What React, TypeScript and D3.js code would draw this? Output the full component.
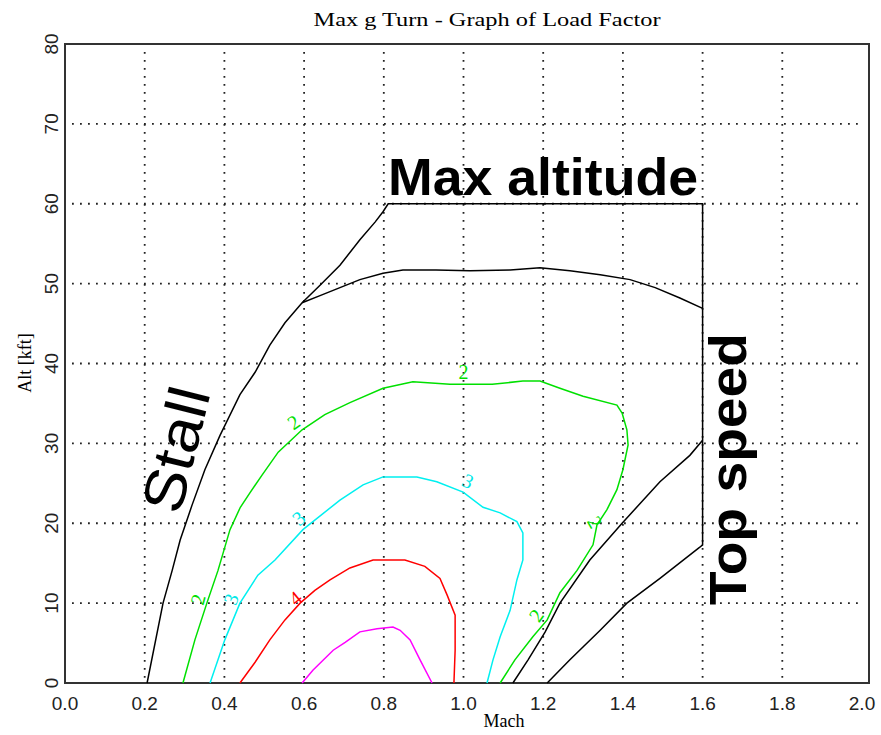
import React from "react";
import * as d3 from "d3";

const W = 881;
const H = 735;

const xTicks = [0, 0.2, 0.4, 0.6, 0.8, 1.0, 1.2, 1.4, 1.6, 1.8, 2.0];
const yTicks = [0, 10, 20, 30, 40, 50, 60, 70, 80];

// Stall boundary + max altitude + top speed envelope
const envelope: [number, number][] = [
  [0.206, 0], [0.246, 10.0], [0.269, 14.1], [0.289, 17.9], [0.319, 22.3], [0.351, 26.7],
  [0.389, 31.0], [0.439, 36.1], [0.477, 38.9], [0.514, 42.3], [0.552, 45.1], [0.595, 47.6],
  [0.64, 49.8], [0.69, 52.3], [0.74, 55.5], [0.778, 57.7], [0.798, 59.0], [0.811, 60.0],
  [1.6, 60.0], [1.6, 17.2],
];

// 1g ceiling curve
const ceiling: [number, number][] = [
  [0.595, 47.6], [0.64, 48.5], [0.69, 49.5], [0.74, 50.5], [0.798, 51.3], [0.848, 51.7],
  [0.931, 51.7], [1.016, 51.6], [1.117, 51.7], [1.192, 52.0], [1.267, 51.6], [1.343, 51.1],
  [1.418, 50.5], [1.481, 49.5], [1.543, 48.2], [1.6, 46.9],
];

const topLineA: [number, number][] = [
  [1.124, 0], [1.162, 2.9], [1.205, 6.4], [1.242, 10.0], [1.317, 15.4], [1.398, 20.0],
  [1.493, 25.2], [1.568, 28.5], [1.6, 30.4],
];

const topLineB: [number, number][] = [
  [1.21, 0], [1.267, 2.9], [1.343, 6.6], [1.41, 10.0], [1.493, 13.1], [1.593, 17.0], [1.6, 17.3],
];

const g2: [number, number][] = [
  [0.296, 0], [0.326, 5.4], [0.356, 10.0], [0.384, 14.1], [0.414, 19.2], [0.44, 22.0],
  [0.464, 23.8], [0.494, 26.0], [0.535, 28.9], [0.595, 31.7], [0.652, 33.6], [0.715, 35.1],
  [0.798, 36.9], [0.873, 37.7], [0.966, 37.4], [1.072, 37.4], [1.149, 37.8], [1.192, 37.8],
  [1.242, 36.9], [1.3, 35.9], [1.385, 34.8], [1.398, 33.8], [1.41, 31.7], [1.413, 29.8],
  [1.4, 26.7], [1.385, 24.2], [1.36, 21.7], [1.335, 19.8], [1.325, 17.3], [1.285, 14.1],
  [1.242, 11.3], [1.21, 7.9], [1.174, 5.8], [1.129, 2.9], [1.092, 0],
];

const g3: [number, number][] = [
  [0.364, 0], [0.401, 5.4], [0.439, 10.0], [0.484, 13.5], [0.527, 15.4], [0.597, 19.2],
  [0.69, 22.9], [0.748, 24.8], [0.798, 25.8], [0.883, 25.8], [0.933, 25.2], [0.999, 23.9],
  [1.049, 22.0], [1.092, 21.3], [1.134, 20.2], [1.149, 18.8], [1.149, 15.4], [1.134, 12.9],
  [1.117, 9.1], [1.092, 5.8], [1.074, 2.9], [1.059, 0],
];

const g4: [number, number][] = [
  [0.439, 0], [0.477, 2.6], [0.514, 5.4], [0.552, 7.9], [0.59, 10.0], [0.627, 11.6],
  [0.665, 12.9], [0.715, 14.4], [0.773, 15.4], [0.853, 15.4], [0.903, 14.6], [0.941, 13.1],
  [0.959, 11.0], [0.979, 8.5], [0.979, 4.1], [0.976, 0],
];

const g5: [number, number][] = [
  [0.595, 0], [0.622, 1.6], [0.673, 4.1], [0.703, 5.1], [0.74, 6.4], [0.783, 6.8],
  [0.823, 7.0], [0.841, 6.6], [0.866, 5.4], [0.891, 2.9], [0.921, 0],
];

const contourLabels: { text: string; mach: number; alt: number; rot: number; color: string }[] = [
  { text: "2", mach: 1.0, alt: 38.6, rot: 0, color: "#00e000" },
  { text: "2", mach: 0.577, alt: 32.4, rot: -35, color: "#00e000" },
  { text: "2", mach: 0.339, alt: 10.4, rot: -75, color: "#00e000" },
  { text: "2", mach: 1.325, alt: 20.0, rot: 60, color: "#00e000" },
  { text: "2", mach: 1.187, alt: 8.3, rot: -55, color: "#00e000" },
  { text: "3", mach: 0.422, alt: 10.4, rot: -70, color: "#00e8e8" },
  { text: "3", mach: 0.59, alt: 20.4, rot: -40, color: "#00e8e8" },
  { text: "3", mach: 1.009, alt: 25.0, rot: 25, color: "#00e8e8" },
  { text: "4", mach: 0.582, alt: 10.4, rot: -40, color: "#ff0000" },
];

const x = d3.scaleLinear().domain([0, 2]).range([65, 862]);
const y = d3.scaleLinear().domain([0, 80]).range([683, 44]);
const line = d3.line<[number, number]>().x((d) => x(d[0])).y((d) => y(d[1]));

export default function App() {
  const series: { data: [number, number][]; color: string }[] = [
    { data: envelope, color: "#000" },
    { data: ceiling, color: "#000" },
    { data: topLineA, color: "#000" },
    { data: topLineB, color: "#000" },
    { data: g2, color: "#00e000" },
    { data: g3, color: "#00f0f0" },
    { data: g4, color: "#ff0000" },
    { data: g5, color: "#ff00ff" },
  ];
  return (
    <svg width={W} height={H} style={{ position: "absolute", left: 0, top: 0, background: "#fff" }}>
      <rect x={0} y={0} width={W} height={H} fill="#fff" />
      {/* grid */}
      {xTicks.slice(1, -1).map((t) => (
        <line key={"gx" + t} x1={x(t)} x2={x(t)} y1={y(80) + 8} y2={y(0)} stroke="#222" strokeWidth={1.8} strokeDasharray="1.8 6.2" />
      ))}
      {yTicks.slice(1, -1).map((t) => (
        <line key={"gy" + t} x1={x(0) + 7} x2={x(2)} y1={y(t)} y2={y(t)} stroke="#222" strokeWidth={1.8} strokeDasharray="1.8 6.2" />
      ))}
      {/* frame */}
      <rect x={65} y={44} width={804} height={639} fill="none" stroke="#333" strokeWidth={2} />
      {/* curves */}
      {series.map((s, i) => (
        <path key={i} d={line(s.data) || ""} fill="none" stroke={s.color} strokeWidth={1.5} />
      ))}
      {contourLabels.map((l, i) => (
        <text key={"cl" + i} transform={`translate(${x(l.mach)},${y(l.alt)}) rotate(${l.rot})`} fill={l.color}
          fontFamily="Liberation Serif" fontSize={20} textAnchor="middle" dominantBaseline="middle">{l.text}</text>
      ))}
      {/* tick labels */}
      {xTicks.map((t) => (
        <text key={"tx" + t} x={x(t)} y={710} textAnchor="middle" fontFamily="Liberation Sans" fontSize={19} fill="#222">{t.toFixed(1)}</text>
      ))}
      {yTicks.map((t) => (
        <text key={"ty" + t} transform={`translate(58,${y(t)}) rotate(-90)`} textAnchor="middle" fontFamily="Liberation Sans" fontSize={19} fill="#222">{t}</text>
      ))}
      {/* titles */}
      <text x={487} y={26} textAnchor="middle" fontFamily="Liberation Serif" fontSize={19} fill="#000" textLength={347} lengthAdjust="spacingAndGlyphs">Max g Turn - Graph of Load Factor</text>
      <text x={504} y={727} textAnchor="middle" fontFamily="Liberation Serif" fontSize={18} fill="#000">Mach</text>
      <text transform="translate(31,363) rotate(-90)" textAnchor="middle" fontFamily="Liberation Serif" fontSize={18} fill="#000">Alt [kft]</text>
      {/* annotations */}
      <text x={388} y={195} fontFamily="Liberation Sans" fontWeight="bold" fontSize={52} fill="#000" textLength={310} lengthAdjust="spacingAndGlyphs">Max altitude</text>
      <text transform="translate(746,605) rotate(-90)" fontFamily="Liberation Sans" fontWeight="bold" fontSize={52} fill="#000" textLength={272} lengthAdjust="spacingAndGlyphs">Top speed</text>
      <text transform="translate(180,516) rotate(-76)" fontFamily="Liberation Sans" fontSize={58} fill="#000" textLength={127} lengthAdjust="spacingAndGlyphs">Stall</text>
    </svg>
  );
}
